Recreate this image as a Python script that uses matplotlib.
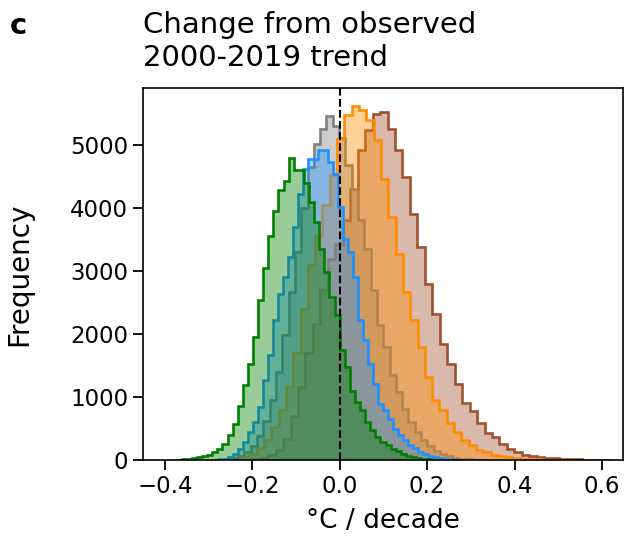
import numpy as np
import matplotlib
matplotlib.use('Agg')
import matplotlib.pyplot as plt

# histogram data (bin start, bin width, counts)
brown_start, brown_width = -0.1978, 0.017068
brown_counts = [10, 35, 80, 160, 330, 700, 1150, 1700, 2150, 2700, 3193, 3420,
                3800, 4305, 4913, 5230, 5495, 5521, 5257, 4913, 4489, 3907, 3378,
                2797, 2320, 1844, 1516, 1198, 902, 775, 590, 426, 362, 246, 178,
                124, 87, 60, 44, 35, 25, 18, 12, 8, 5, 3, 2, 1]

gray_start, gray_width = -0.2756, 0.01443
gray_counts = [4, 12, 28, 60, 120, 220, 380, 620, 950, 1400, 1976, 2664, 3300,
               4000, 4650, 5019, 5257, 5457, 5290, 5110, 4675, 4305, 3802, 3352,
               2690, 2135, 1790, 1341, 1076, 813, 600, 440, 320, 220, 150, 100,
               62, 38, 22, 12, 6, 3]

orange_start, orange_width = -0.2735, 0.016724
orange_counts = [3, 8, 22, 50, 100, 185, 320, 520, 800, 1150, 1700, 2400, 3100,
                 3560, 4050, 4515, 5098, 5468, 5611, 5548, 5389, 5070, 4463, 3854,
                 3273, 2664, 2214, 1790, 1314, 944, 786, 584, 442, 320, 230, 162,
                 124, 87, 60, 42, 30, 20, 14, 9, 6, 4, 2]

blue_start, blue_width = -0.2903, 0.011455
blue_counts = [3, 8, 18, 45, 98, 178, 283, 442, 600, 838, 1262, 1659, 2214, 2638,
               2900, 3219, 3700, 4225, 4620, 4780, 4780, 4913, 4913, 4727, 4530,
               4013, 3511, 3299, 2902, 2214, 1897, 1527, 1210, 892, 786, 654, 495,
               389, 310, 240, 183, 130, 98, 70, 44, 30, 18, 10, 5, 2]

green_start, green_width = -0.3732, 0.01166
green_counts = [3, 8, 15, 25, 44, 60, 87, 124, 178, 257, 400, 574, 860, 1183, 1527,
                1950, 2532, 3050, 3553, 3950, 4290, 4430, 4790, 4595, 4595, 4400,
                4100, 3775, 3352, 2981, 2584, 2300, 1738, 1473, 1100, 918, 786, 600,
                468, 370, 290, 230, 178, 135, 98, 65, 44, 28, 16, 8, 4]

series = [
    (brown_start, brown_width, brown_counts, 'sienna'),
    (gray_start, gray_width, gray_counts, 'gray'),
    (orange_start, orange_width, orange_counts, 'darkorange'),
    (blue_start, blue_width, blue_counts, 'dodgerblue'),
    (green_start, green_width, green_counts, 'green'),
]

fig = plt.figure(figsize=(6.27, 5.38), dpi=100)
ax = fig.add_axes([0.228, 0.145, 0.7656, 0.6914])

for start, width, counts, col in series:
    edges = start + width * np.arange(len(counts) + 1)
    ax.stairs(counts, edges, fill=True, color=col, alpha=0.4, linewidth=0)
    ax.stairs(counts, edges, color=col, linewidth=1.9)

ax.axvline(0, color='black', linestyle='--', linewidth=1.5)

ax.set_xlim(-0.45, 0.648)
ax.set_ylim(0, 5900)
ax.set_xticks([-0.4, -0.2, 0.0, 0.2, 0.4, 0.6])
ax.set_yticks([0, 1000, 2000, 3000, 4000, 5000])
ax.tick_params(labelsize=16.5, length=7, width=1.3)
for sp in ax.spines.values():
    sp.set_linewidth(1.2)

ax.set_xlabel('°C / decade', fontsize=19)
ax.set_ylabel('Frequency', fontsize=20)
ax.xaxis.set_label_coords(0.5, -0.13)
ax.yaxis.set_label_coords(-0.228, 0.5)
ax.set_title('Change from observed\n2000-2019 trend', loc='left', fontsize=21, pad=16)
fig.text(0.016, 1 - 34 / 538, 'c', fontsize=21, fontweight='bold')

fig.savefig('out.png', dpi=100)
